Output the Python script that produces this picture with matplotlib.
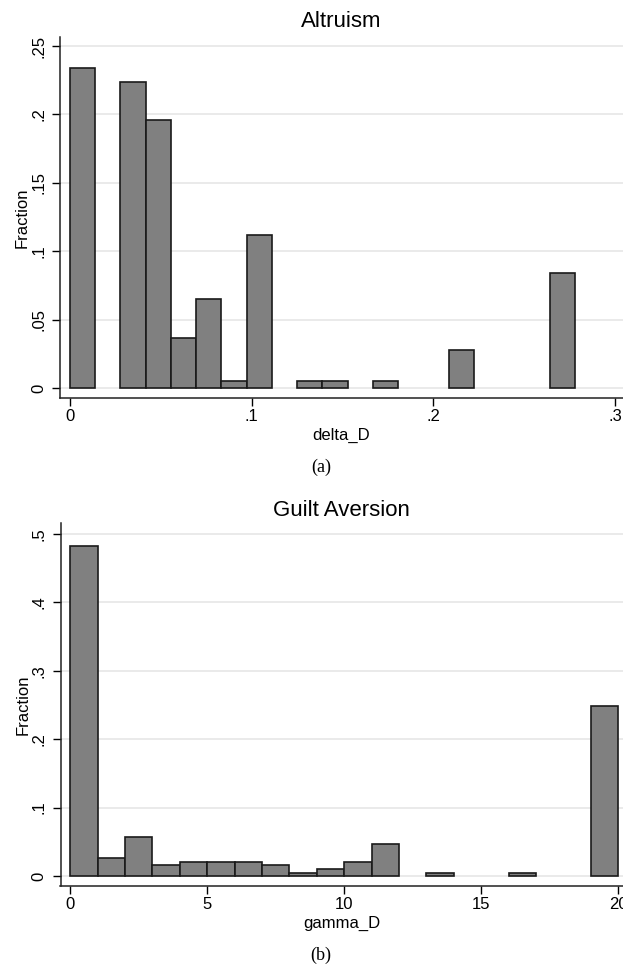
import numpy as np
import matplotlib
matplotlib.use("Agg")
import matplotlib.pyplot as plt
from matplotlib import font_manager

# histogram of delta_D: 20 bins of equal width starting at 0
delta_bin_width = 0.2778 / 20
delta_frac = [0.234, 0.0, 0.224, 0.196, 0.037, 0.065, 0.005, 0.112, 0.0, 0.005,
              0.005, 0.0, 0.005, 0.0, 0.0, 0.028, 0.0, 0.0, 0.0, 0.084]
delta_yticks = [0, 0.05, 0.1, 0.15, 0.2, 0.25]
delta_ylabels = ["0", ".05", ".1", ".15", ".2", ".25"]
delta_xticks = [0, 0.1, 0.2, 0.3]
delta_xlabels = ["0", ".1", ".2", ".3"]

# histogram of gamma_D: bins of width 1 from 0 to 20
gamma_bin_width = 1.0
gamma_frac = [0.482, 0.026, 0.057, 0.016, 0.021, 0.021, 0.021, 0.016, 0.005, 0.010,
              0.021, 0.047, 0.0, 0.005, 0.0, 0.0, 0.005, 0.0, 0.0, 0.249]
gamma_yticks = [0, 0.1, 0.2, 0.3, 0.4, 0.5]
gamma_ylabels = ["0", ".1", ".2", ".3", ".4", ".5"]
gamma_xticks = [0, 5, 10, 15, 20]
gamma_xlabels = ["0", "5", "10", "15", "20"]

installed = {f.name for f in font_manager.fontManager.ttflist}
sans = "Liberation Sans Narrow" if "Liberation Sans Narrow" in installed else "Liberation Sans"
plt.rcParams['font.family'] = [sans, 'DejaVu Sans']

W, H = 623, 968
fig = plt.figure(figsize=(W / 100, H / 100), dpi=100)


def draw_hist(ax, width, frac, xlim, ylim, yticks, ylabels, xticks, xlabels, title, xlabel, tpad):
    lefts = [i * width for i, v in enumerate(frac) if v > 0]
    heights = [v for v in frac if v > 0]
    for y in yticks:
        ax.axhline(y, color="#e6e6e6", lw=1.2, zorder=0)
    ax.bar(lefts, heights, width=width, align="edge", color="#808080",
           edgecolor="#1a1a1a", linewidth=1.2, zorder=2)
    ax.set_xlim(*xlim)
    ax.set_ylim(*ylim)
    for s in ["top", "right"]:
        ax.spines[s].set_visible(False)
    ax.spines["left"].set_color("#222222")
    ax.spines["bottom"].set_color("#222222")
    ax.spines["left"].set_linewidth(1.1)
    ax.spines["bottom"].set_linewidth(1.1)
    ax.set_yticks(yticks)
    ax.set_yticklabels(ylabels, rotation=90, va="center", fontsize=12)
    ax.set_xticks(xticks)
    ax.set_xticklabels(xlabels, fontsize=12)
    ax.tick_params(axis="y", length=6, width=1, pad=4)
    ax.tick_params(axis="x", length=6, width=1, pad=2)
    ax.set_ylabel("Fraction", fontsize=12, labelpad=1)
    ax.set_xlabel(xlabel, fontsize=12, labelpad=3)
    ax.set_title(title, fontsize=16, pad=tpad)
    ax.patch.set_alpha(0)


ax1 = fig.add_axes([60 / W, 1 - 398 / H, 1 - 60 / W, (398 - 37) / H])
draw_hist(ax1, delta_bin_width, delta_frac, (-0.0055, 0.3043), (-0.0071, 0.2566),
          delta_yticks, delta_ylabels, delta_xticks, delta_xlabels, "Altruism", "delta_D", 7)

ax2 = fig.add_axes([60.5 / W, 1 - 886 / H, 1 - 60.5 / W, (886 - 523) / H])
draw_hist(ax2, gamma_bin_width, gamma_frac, (-0.35, 20.17), (-0.0146, 0.516),
          gamma_yticks, gamma_ylabels, gamma_xticks, gamma_xlabels, "Guilt Aversion", "gamma_D", 5)

fig.text(321 / W, 1 - 467 / H, "(a)", ha="center", va="center", fontsize=13,
         family=["Liberation Serif", "DejaVu Serif"])
fig.text(321 / W, 1 - 955 / H, "(b)", ha="center", va="center", fontsize=13,
         family=["Liberation Serif", "DejaVu Serif"])

fig.savefig("out.png", dpi=100)
